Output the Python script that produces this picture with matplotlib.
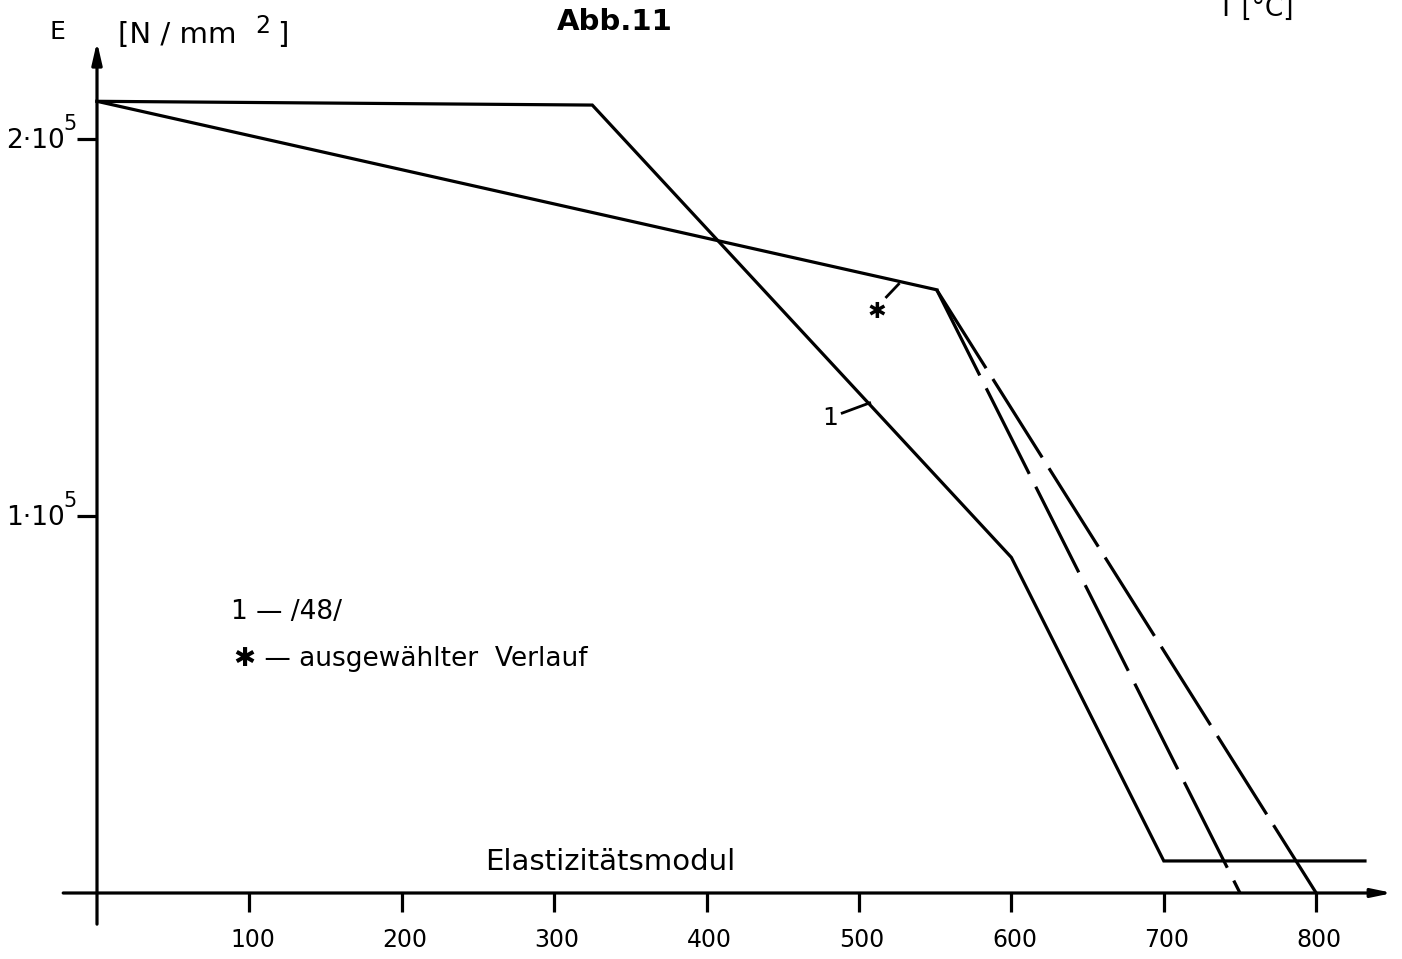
import matplotlib.pyplot as plt

# Elastizitätsmodul E(T), Werte in 1e5 N/mm^2
t_48 = [0, 325, 600, 700, 832]
e_48 = [2.10, 2.09, 0.89, 0.085, 0.085]

t_sel = [0, 551]
e_sel = [2.10, 1.60]

# zwei gestrichelte Äste ab dem Knick
t_ast1 = [551, 750]
e_ast1 = [1.60, 0.0]
t_ast2 = [551, 800]
e_ast2 = [1.60, 0.0]

x_ticks = [100, 200, 300, 400, 500, 600, 700, 800]
y_ticks = [1, 2]
y_labels = ['1·10', '2·10']

fig = plt.figure(figsize=(14.02, 9.59), dpi=100)
ax = fig.add_axes([0, 0, 1, 1])
ax.set_xlim(-97 / 1.524, (1402 - 97) / 1.524)
ax.set_ylim(-(959 - 893) / 377, 893 / 377)
ax.axis('off')

lw = 2.3
k = 'black'

# Achsen mit Pfeilen
ax.annotate('', xy=(852, 0), xytext=(-24, 0),
            arrowprops=dict(arrowstyle='-|>,head_length=1.2,head_width=0.25', lw=lw, color=k))
ax.annotate('', xy=(0, 2.265), xytext=(0, -0.09),
            arrowprops=dict(arrowstyle='-|>,head_length=1.3,head_width=0.3', lw=lw, color=k))

for t in x_ticks:
    ax.plot([t, t], [0, -0.05], color=k, lw=lw, solid_capstyle='butt')
    ax.text(t + 2, -0.125, str(t), ha='center', va='center', fontsize=17)
for e, lab in zip(y_ticks, y_labels):
    ax.plot([-13, 0], [e, e], color=k, lw=lw, solid_capstyle='butt')
    ax.text(-21, e - 0.005, lab, ha='right', va='center', fontsize=19)
    ax.text(-22, e + 0.04, '5', ha='left', va='center', fontsize=15)

# Kurven
ax.plot(t_48, e_48, color=k, lw=lw, solid_joinstyle='miter')
ax.plot(t_sel, e_sel, color=k, lw=lw)
ax.plot(t_ast1, e_ast1, color=k, lw=lw, dashes=(30, 4.5))
ax.plot(t_ast2, e_ast2, color=k, lw=lw, dashes=(29, 4))

# Kennzeichnungen an den Kurven
ax.plot([489, 507], [1.273, 1.300], color=k, lw=2)
ax.text(481, 1.26, '1', ha='center', va='center', fontsize=18)
ax.plot([518, 526], [1.581, 1.615], color=k, lw=2)
ax.text(512, 1.54, '✱', ha='center', va='center', fontsize=16)

# Beschriftungen
ax.text(-26, 2.284, 'E', ha='center', va='center', fontsize=18)
ax.text(14, 2.277, '[N / mm', ha='left', va='center', fontsize=21)
ax.text(104, 2.30, '2', ha='left', va='center', fontsize=17)
ax.text(118, 2.277, ']', ha='left', va='center', fontsize=21)
ax.text(340, 2.31, 'Abb.11', ha='center', va='center', fontsize=21, fontweight='bold')
ax.text(760, 2.345, 'T [°C]', ha='center', va='center', fontsize=19)
ax.text(337, 0.082, 'Elastizitätsmodul', ha='center', va='center', fontsize=21)

ax.text(88, 0.745, '1 — /48/', ha='left', va='center', fontsize=19)
ax.text(90, 0.622, '✱ — ausgewählter  Verlauf', ha='left', va='center', fontsize=19)

fig.savefig('out.png', dpi=100)
